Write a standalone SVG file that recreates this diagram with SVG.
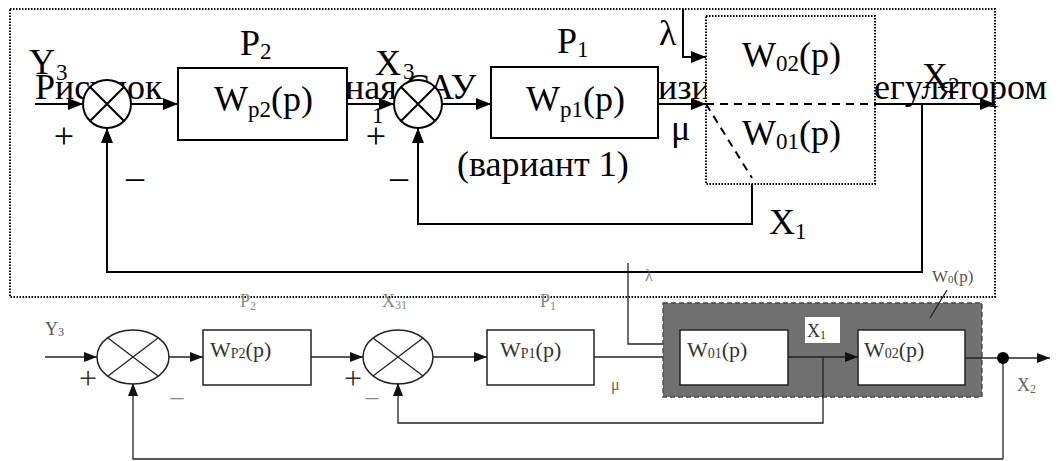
<svg xmlns="http://www.w3.org/2000/svg" width="1059" height="461" viewBox="0 0 1059 461">
<defs>
<marker id="a" markerUnits="userSpaceOnUse" markerWidth="15" markerHeight="12" refX="15" refY="6" orient="auto"><path d="M0,0 L15,6 L0,12 z" fill="#000"/></marker>
<marker id="b" markerUnits="userSpaceOnUse" markerWidth="13" markerHeight="10" refX="13" refY="5" orient="auto"><path d="M0,0 L13,5 L0,10 z" fill="#111"/></marker>
<style>
text{font-family:"Liberation Serif","Times New Roman",serif}
.t{font-size:36px;fill:#000}
.cap{font-size:36px;fill:#000}
.s{font-size:23px}
.blk{fill:#fff;stroke:#000;stroke-width:2}
.dot{fill:none;stroke:#000;stroke-width:2;stroke-dasharray:1.5 1.5}
.ln{fill:none;stroke:#000;stroke-width:2}
.dash{fill:none;stroke:#000;stroke-width:2;stroke-dasharray:8 6}
.bl{fill:none;stroke:#222;stroke-width:1.3}
.bblk{fill:#fff;stroke:#222;stroke-width:1.5}
.bt{font-size:22px;fill:#333}
.bs{font-size:14px}
</style>
</defs>
<rect width="1059" height="461" fill="#fff"/>

<g id="caption">
<text class="cap" x="35" y="99">Рисунок</text>
<text class="cap" x="345" y="99">ная САУ</text>
<text class="cap" x="658" y="99">изи</text>
<text class="cap" x="874" y="99">егулятором</text>
</g>

<g id="frame-top"><rect class="dot" x="10" y="9" width="985" height="288"/></g>

<g id="connectors">
<path class="ln" d="M35,104 H83" marker-end="url(#a)"/>
<path class="ln" d="M131,104 H178" marker-end="url(#a)"/>
<path class="ln" d="M347,104 H394" marker-end="url(#a)"/>
<path class="ln" d="M442,104 H491" marker-end="url(#a)"/>
<path class="ln" d="M658,104 H706" marker-end="url(#a)"/>
<path class="ln" d="M683,9 V57 H706" marker-end="url(#a)"/>
<path class="ln" d="M875,104 H995" marker-end="url(#a)"/>
<path class="ln" d="M922,104 V272 H107 V128" marker-end="url(#a)"/>
<path class="ln" d="M752,178 V224 H418 V128" marker-end="url(#a)"/>

<path class="bl" d="M45,357 H97" marker-end="url(#b)"/>
<path class="bl" d="M168,357 H203" marker-end="url(#b)"/>
<path class="bl" d="M311,357 H363" marker-end="url(#b)"/>
<path class="bl" d="M433,357 H487" marker-end="url(#b)"/>
<path class="bl" d="M594,357 H680" marker-end="url(#b)"/>
<path class="bl" d="M628,263 V344 H680" marker-end="url(#b)"/>
<path class="bl" d="M1003,459 H133 V383" marker-end="url(#b)"/>
<path class="bl" d="M1003,358 V459"/>
</g>

<g id="sum1">
<circle class="blk" cx="107" cy="104" r="24"/>
<path class="ln" d="M90,87 L124,121 M124,87 L90,121"/>
<text class="t" x="64" y="148" text-anchor="middle">+</text>
<text class="t" x="135" y="189" text-anchor="middle">–</text>
<text class="t" x="29" y="74">Y</text><text class="t s" x="56" y="80">3</text>
</g>

<g id="Wp2">
<rect class="blk" x="178" y="68" width="169" height="72"/>
<text class="t" x="214" y="111">W<tspan class="s" dy="6">p2</tspan><tspan dy="-6">(p)</tspan></text>
<text class="t" x="240" y="55">P<tspan class="s" dy="4">2</tspan></text>
</g>

<g id="sum2">
<circle class="blk" cx="418" cy="104" r="24"/>
<path class="ln" d="M401,87 L435,121 M435,87 L401,121"/>
<text class="t" x="376" y="148" text-anchor="middle">+</text>
<text class="t" x="399" y="189" text-anchor="middle">–</text>
<text class="t" x="375" y="75">X</text><text class="t s" x="403" y="79">3</text>
<text class="t s" x="372" y="123">1</text>
</g>

<g id="Wp1">
<rect class="blk" x="491" y="67" width="167" height="71"/>
<text class="t" x="526" y="111">W<tspan class="s" dy="6">p1</tspan><tspan dy="-6">(p)</tspan></text>
<text class="t" x="557" y="53">P<tspan class="s" dy="4">1</tspan></text>
<text class="t" x="457" y="176">(вариант 1)</text>
<text class="t" x="671" y="140">μ</text>
<text class="t" x="659" y="45">λ</text>
</g>

<g id="W0-top">
<rect fill="#fff" x="706" y="16" width="169" height="168"/>
<rect class="dot" x="706" y="16" width="169" height="168"/>
<path class="dash" d="M706,104 H875 M706,104 L752,178"/>
<text class="t" x="742" y="67">W<tspan class="s" dy="4">02</tspan><tspan dy="-4">(p)</tspan></text>
<text class="t" x="742" y="145">W<tspan class="s" dy="4">01</tspan><tspan dy="-4">(p)</tspan></text>
</g>

<g id="labels-top">
<text class="t" x="922" y="88">X<tspan class="s" dy="5">2</tspan></text>
<text class="t" x="769" y="234">X<tspan class="s" dy="5">1</tspan></text>
</g>

<g id="sum3">
<ellipse class="bblk" cx="133" cy="357" rx="36" ry="27"/>
<path class="bl" d="M108,338 L158,376 M158,338 L108,376"/>
<text x="88" y="389" font-size="32" fill="#333" text-anchor="middle">+</text>
<text x="177" y="405" font-size="26" fill="#888" text-anchor="middle">–</text>
<text x="45" y="335" font-size="18" fill="#555">Y<tspan font-size="12" dy="1">3</tspan></text>
</g>

<g id="WP2">
<rect class="bblk" x="203" y="330" width="108" height="55"/>
<text class="bt" x="210" y="357">W<tspan class="bs" dy="1">P2</tspan><tspan dy="-1">(p)</tspan></text>
<text x="240" y="307" font-size="18" fill="#888">P<tspan font-size="12" dy="3">2</tspan></text>
</g>

<g id="sum4">
<ellipse class="bblk" cx="398" cy="357" rx="35" ry="27"/>
<path class="bl" d="M373,338 L423,376 M423,338 L373,376"/>
<text x="353" y="389" font-size="32" fill="#333" text-anchor="middle">+</text>
<text x="372" y="405" font-size="26" fill="#888" text-anchor="middle">–</text>
<text x="382" y="307" font-size="18" fill="#888">X<tspan font-size="12" dy="2">31</tspan></text>
</g>

<g id="WP1">
<rect class="bblk" x="487" y="330" width="107" height="55"/>
<text class="bt" x="500" y="357">W<tspan class="bs" dy="1">P1</tspan><tspan dy="-1">(p)</tspan></text>
<text x="540" y="307" font-size="18" fill="#888">P<tspan font-size="12" dy="3">1</tspan></text>
<text x="611" y="390" font-size="16" fill="#666">μ</text>
<text x="645" y="281" font-size="16" fill="#888">λ</text>
</g>

<g id="W0-bottom">
<rect x="663" y="303" width="319" height="94" fill="#707070" stroke="#444" stroke-width="1.3" stroke-dasharray="5 3"/>
<rect class="bblk" x="680" y="330" width="108" height="55"/>
<rect class="bblk" x="858" y="330" width="107" height="55"/>
<text class="bt" x="687" y="357">W<tspan class="bs" dy="1">01</tspan><tspan dy="-1">(p)</tspan></text>
<text class="bt" x="864" y="357">W<tspan class="bs" dy="1">02</tspan><tspan dy="-1">(p)</tspan></text>
<path class="bl" d="M788,357 H858" marker-end="url(#b)"/>
<path class="bl" d="M823,357 V423 H398 V383" marker-end="url(#b)"/>
<rect x="805" y="317" width="35" height="26" fill="#fff"/>
<text x="807" y="337" font-size="18" fill="#333">X<tspan font-size="12" dy="2">1</tspan></text>
<path class="bl" d="M947,290 L930,318"/>
<text x="932" y="282" font-size="17" fill="#555">W<tspan font-size="11" dy="1">0</tspan><tspan dy="-1">(p)</tspan></text>
</g>

<g id="output-bottom">
<path class="bl" d="M965,358 H1050" marker-end="url(#b)"/>
<circle cx="1003" cy="358" r="6" fill="#000"/>
<text x="1017" y="391" font-size="18" fill="#666">X<tspan font-size="12" dy="2">2</tspan></text>
</g>
</svg>
